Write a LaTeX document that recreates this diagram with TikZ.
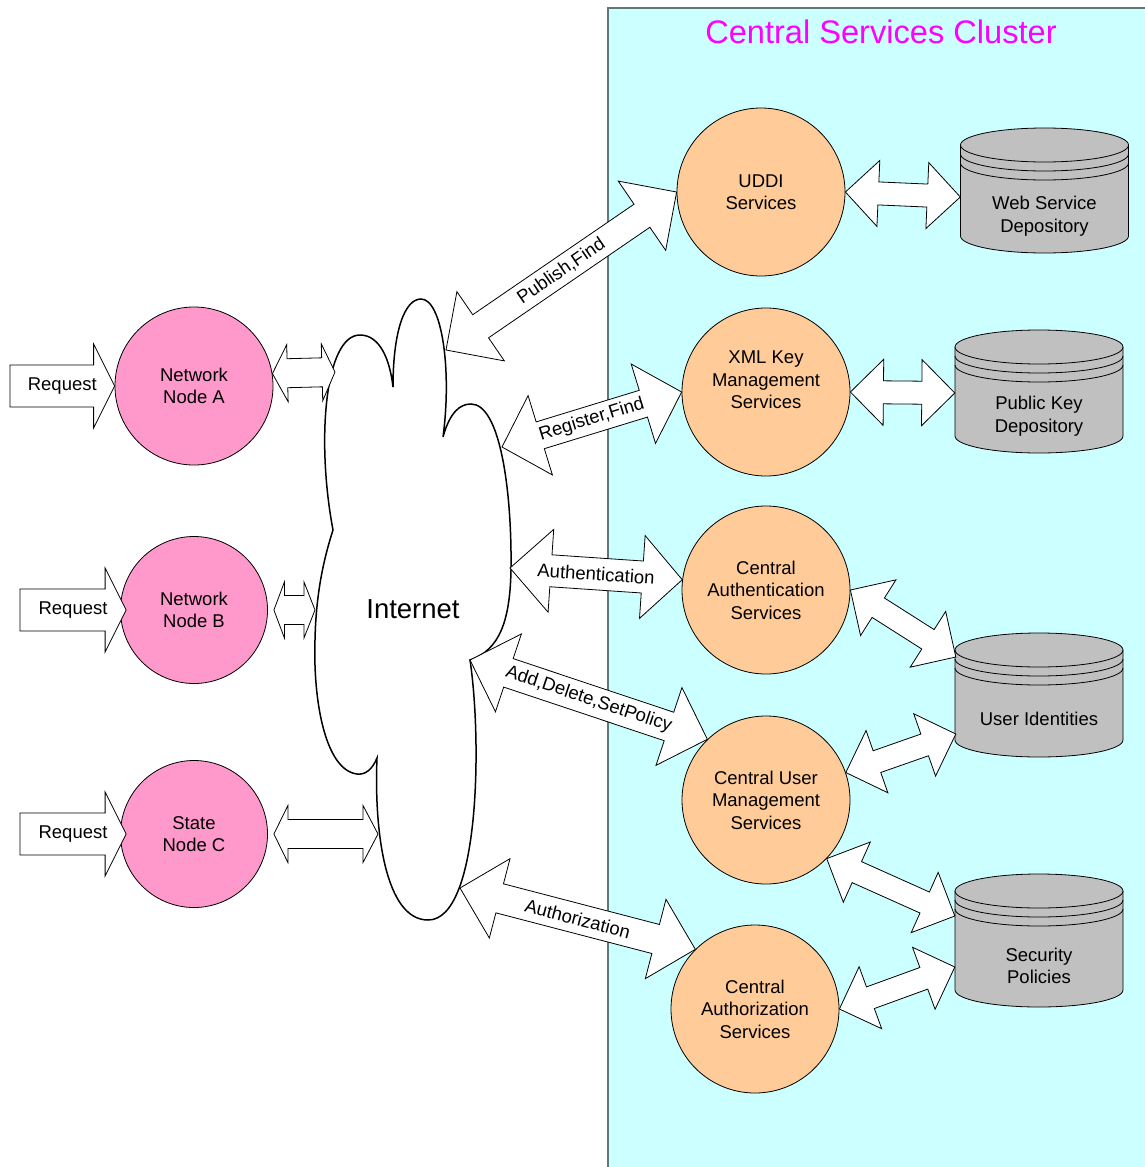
\documentclass[tikz,border=0pt]{standalone}
\usepackage{fontspec}
\setmainfont{Liberation Sans}
\usetikzlibrary{calc}
\definecolor{clusterfill}{HTML}{CCFFFF}
\definecolor{clusterline}{HTML}{607878}
\definecolor{pinkfill}{HTML}{FF99CC}
\definecolor{orangefill}{HTML}{FFCC99}
\definecolor{cylfill}{HTML}{C0C0C0}
\definecolor{titlecol}{HTML}{FF00FF}
\tikzset{
  txt/.style={font=\fontsize{18.5}{22.5}\selectfont, align=center, inner sep=0pt},
  lbl/.style={font=\fontsize{18.5}{22.5}\selectfont, inner sep=0pt},
  pinkcirc/.style={circle, draw=black, line width=0.8pt, fill=pinkfill, inner sep=0pt, align=center, font=\fontsize{18.5}{22.5}\selectfont},
  orangecirc/.style={circle, draw=black, line width=0.8pt, fill=orangefill, inner sep=0pt, minimum size=168pt, align=center, font=\fontsize{18.5}{22.5}\selectfont},
  arrowshape/.style={draw=black, fill=white, line width=0.8pt, line join=miter},
  cylshape/.style={draw=black, fill=cylfill, line width=0.8pt},
  cloudline/.style={draw=black, fill=white, line width=1.5pt},
  clusterbox/.style={draw=clusterline, fill=clusterfill, line width=1.5pt},
  titlestyle/.style={font=\fontsize{32.6}{38}\selectfont, text=titlecol, inner sep=0pt}
}
% double block arrow: from, to, shaft half, head half, head length at from, head length at to, label
\newcommand\dblarrow[7]{%
  \draw[arrowshape] (#1)
   -- ($(#1)!#5pt!(#2)!#4pt!90:(#2)$)
   -- ($(#1)!#5pt!(#2)!#3pt!90:(#2)$)
   -- ($(#2)!#6pt!(#1)!#3pt!-90:(#1)$)
   -- ($(#2)!#6pt!(#1)!#4pt!-90:(#1)$)
   -- (#2)
   -- ($(#2)!#6pt!(#1)!#4pt!90:(#1)$)
   -- ($(#2)!#6pt!(#1)!#3pt!90:(#1)$)
   -- ($(#1)!#5pt!(#2)!#3pt!-90:(#2)$)
   -- ($(#1)!#5pt!(#2)!#4pt!-90:(#2)$)
   -- cycle;
  \path (#1) -- (#2) node[midway, sloped, lbl] {#7};}
% single block arrow: tail, tip, label
\newcommand\reqarrow[3]{%
  \draw[arrowshape] ($(#1)!21pt!90:(#2)$)
   -- ($(#2)!21pt!(#1)!21pt!-90:(#1)$)
   -- ($(#2)!21pt!(#1)!42pt!-90:(#1)$)
   -- (#2)
   -- ($(#2)!21pt!(#1)!42pt!90:(#1)$)
   -- ($(#2)!21pt!(#1)!21pt!90:(#1)$)
   -- ($(#1)!21pt!-90:(#2)$)
   -- cycle;
  \path (#1) -- (#2) node[midway, lbl] {#3};}
% cylinder: name, cx, top extremity, bottom extremity, text y, text
\newcommand\dbcyl[6]{%
  \pgfmathsetmacro\cyt{#3+17}%
  \pgfmathsetmacro\cyb{#4-17}%
  \pgfmathsetmacro\cyh{#4-#3}%
  \pgfmathsetmacro\cym{(#3+#4)/2}%
  \draw[cylshape] (#2-84,\cyt) -- (#2-84,\cyb)
    arc[start angle=180, end angle=360, x radius=84pt, y radius=17pt]
    -- (#2+84,\cyt)
    arc[start angle=0, end angle=180, x radius=84pt, y radius=17pt] -- cycle;
  \draw[cylshape, fill=none] (#2-84,\cyt) arc[start angle=180, end angle=360, x radius=84pt, y radius=17pt];
  \draw[cylshape, fill=none] (#2-84,\cyt+9) arc[start angle=180, end angle=360, x radius=84pt, y radius=17pt];
  \draw[cylshape, fill=none] (#2-84,\cyt+18) arc[start angle=180, end angle=360, x radius=84pt, y radius=17pt];
  \node[inner sep=0pt, minimum width=168pt, minimum height=\cyh pt] (#1) at (#2,\cym) {};
  \node[txt] (#1txt) at (#2,#5) {#6};}
\begin{document}
\begin{tikzpicture}[x=1pt, y=-1pt]
\useasboundingbox (0,0) rectangle (1145,1167);
% cluster
\draw[clusterbox] (608,8) rectangle (1160,1180);
\node[titlestyle, anchor=base] (title) at (881,43) {Central Services Cluster};
% cloud
\draw[cloudline] (333,530)
 .. controls (316,440) and (325,335) .. (360,335)
 .. controls (380,335) and (390,360) .. (393,387)
 .. controls (393,330) and (405,299) .. (421,299)
 .. controls (442,299) and (452,370) .. (443,437)
 .. controls (450,412) and (460,404) .. (471,404)
 .. controls (500,404) and (512,490) .. (511,570)
 .. controls (510,620) and (500,650) .. (470,660)
 .. controls (482,740) and (480,920) .. (428,920)
 .. controls (385,920) and (374,830) .. (377,758)
 .. controls (372,770) and (365,775) .. (357,774)
 .. controls (325,770) and (313,700) .. (315,640)
 .. controls (316,590) and (325,555) .. (333,530) -- cycle;
\node[font=\fontsize{27.5}{33}\selectfont, inner sep=0pt] (inet) at (413,609) {Internet};
\coordinate (cA) at (335,372);
\coordinate (cB) at (315,610);
\coordinate (cC) at (378,834);
\coordinate (cPub) at (446,350);
\coordinate (cReg) at (502,447);
\coordinate (cAuthn) at (510,568);
\coordinate (cAdd) at (470,660);
\coordinate (cAuthz) at (460,888);
% left nodes
\node[pinkcirc, minimum size=158pt] (nA) at (194,386) {Network\\Node A};
\node[pinkcirc, minimum size=147pt] (nB) at (194,610) {Network\\Node B};
\node[pinkcirc, minimum size=147pt] (nC) at (194,834) {State\\Node C};
% services
\node[orangecirc] (uddi) at (761,192) {UDDI\\Services};
\node[orangecirc] (xml) at (766,392) {};
\node[txt] (xmltxt) at (766,380) {XML Key\\Management\\Services};
\node[orangecirc] (cauth) at (766,590) {Central\\Authentication\\Services};
\node[orangecirc] (cum) at (766,800) {Central User\\Management\\Services};
\node[orangecirc] (cauz) at (755,1009) {Central\\Authorization\\Services};
% stores
\dbcyl{wsd}{1044.5}{128}{253}{216}{Web Service\\Depository}
\dbcyl{pkd}{1039}{330}{453}{416}{Public Key\\Depository}
\dbcyl{ui}{1039}{633}{757}{719}{User Identities}
\dbcyl{sp}{1039}{874}{1007}{966}{Security\\Policies}
% request arrows
\coordinate (reqA) at (10,386);
\coordinate (reqB) at (20,610);
\coordinate (reqC) at (20,834);
\reqarrow{reqA}{nA.west}{Request}
\reqarrow{reqB}{$(nB.west)+(6,0)$}{Request}
\reqarrow{reqC}{$(nC.west)+(6,0)$}{Request}
% node <-> cloud
\dblarrow{nA.9.5}{cA}{14.5}{28.5}{15}{13}{}
\dblarrow{$(nB.east)+(6,0)$}{cB}{14.5}{28}{10.5}{11}{}
\dblarrow{$(nC.east)+(6,0)$}{cC}{14.5}{28.5}{14}{15}{}
% cloud <-> services
\dblarrow{cPub}{uddi.180}{14}{42}{42}{42}{Publish,Find}
\dblarrow{cReg}{xml.180}{14}{41.5}{40}{40}{Register,Find}
\dblarrow{cAuthn}{cauth.173}{16}{41.5}{41}{40}{Authentication}
\dblarrow{cAdd}{cum.134.5}{15}{41}{40.5}{40.5}{Add,Delete,SetPolicy}
\dblarrow{cAuthz}{cauz.135}{15}{41}{41}{41}{Authorization}
% services <-> stores
\dblarrow{uddi.0}{$(wsd.west)+(0,6.5)$}{11.5}{33}{33}{33}{}
\dblarrow{xml.0}{$(pkd.west)+(0,1.5)$}{11.5}{33}{33}{33}{}
\dblarrow{cauth.0}{$(ui.west)+(1,-38)$}{11.5}{33}{33}{33}{}
\dblarrow{cum.19.3}{$(ui.west)+(1,39)$}{11.5}{33}{33}{33}{}
\dblarrow{cum.-44}{$(sp.west)+(0,-24.5)$}{11.5}{33}{33}{33}{}
\dblarrow{cauz.0}{$(sp.west)+(0,26.5)$}{11.5}{33}{33}{33}{}
\end{tikzpicture}
\end{document}
